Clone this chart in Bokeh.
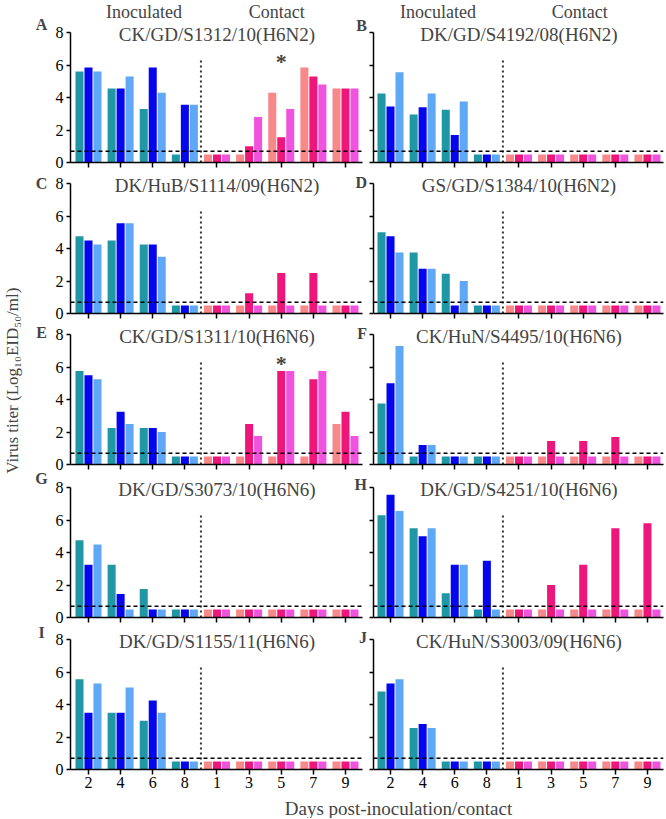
import math
from bokeh.plotting import figure
from bokeh.layouts import row, column
from bokeh.models import Label, FixedTicker, Range1d
from bokeh.embed import file_html
from bokeh.resources import INLINE

# ---------------- data ----------------
inoc_days = ["2", "4", "6", "8"]
contact_days = ["1", "3", "5", "7", "9"]
panel_letters = ["A", "B", "C", "D", "E", "F", "G", "H", "I", "J"]
strains = ["CK/GD/S1312/10(H6N2)", "DK/GD/S4192/08(H6N2)",
           "DK/HuB/S1114/09(H6N2)", "GS/GD/S1384/10(H6N2)",
           "CK/GD/S1311/10(H6N6)", "CK/HuN/S4495/10(H6N6)",
           "DK/GD/S3073/10(H6N6)", "DK/GD/S4251/10(H6N6)",
           "DK/GD/S1155/11(H6N6)", "CK/HuN/S3003/09(H6N6)"]

# three inoculated birds (rows) x days 2,4,6,8
A_inoc = [[5.6, 4.55, 3.3, 0.5], [5.85, 4.55, 5.85, 3.55], [5.6, 5.3, 4.3, 3.55]]
# three contact birds (rows) x days 1,3,5,7,9
A_cont = [[0.5, 0.5, 4.3, 5.85, 4.55], [0.5, 1.0, 1.55, 5.3, 4.55], [0.5, 2.8, 3.3, 4.8, 4.55]]
B_inoc = [[4.25, 2.95, 3.25, 0.5], [3.45, 3.4, 1.7, 0.5], [5.55, 4.25, 3.75, 0.5]]
B_cont = [[0.5] * 5, [0.5] * 5, [0.5] * 5]
C_inoc = [[4.75, 4.5, 4.25, 0.5], [4.5, 5.55, 4.25, 0.5], [4.25, 5.55, 3.5, 0.5]]
C_cont = [[0.5] * 5, [0.5, 1.25, 2.5, 2.5, 0.5], [0.5] * 5]
D_inoc = [[5.0, 3.75, 2.45, 0.5], [4.75, 2.75, 0.5, 0.5], [3.75, 2.75, 2.0, 0.5]]
D_cont = [[0.5] * 5, [0.5] * 5, [0.5] * 5]
E_inoc = [[5.75, 2.25, 2.25, 0.5], [5.5, 3.25, 2.25, 0.5], [5.25, 2.5, 2.0, 0.5]]
E_cont = [[0.5, 0.5, 0.5, 0.5, 2.5], [0.5, 2.5, 5.75, 5.25, 3.25], [0.5, 1.75, 5.75, 5.75, 1.75]]
F_inoc = [[3.75, 0.5, 0.5, 0.5], [5.0, 1.2, 0.5, 0.5], [7.3, 1.2, 0.5, 0.5]]
F_cont = [[0.5] * 5, [0.5, 1.45, 1.45, 1.7, 0.5], [0.5] * 5]
G_inoc = [[4.75, 3.25, 1.75, 0.5], [3.25, 1.45, 0.5, 0.5], [4.5, 0.5, 0.5, 0.5]]
G_cont = [[0.5] * 5, [0.5] * 5, [0.5] * 5]
H_inoc = [[6.3, 5.5, 1.5, 0.5], [7.55, 5.0, 3.25, 3.5], [6.55, 5.5, 3.25, 0.5]]
H_cont = [[0.5] * 5, [0.5, 2.0, 3.25, 5.5, 5.8], [0.5] * 5]
I_inoc = [[5.55, 3.5, 3.0, 0.5], [3.5, 3.5, 4.25, 0.5], [5.3, 5.05, 3.5, 0.5]]
I_cont = [[0.5] * 5, [0.5] * 5, [0.5] * 5]
J_inoc = [[4.8, 2.55, 0.5, 0.5], [5.3, 2.8, 0.5, 0.5], [5.55, 2.55, 0.5, 0.5]]
J_cont = [[0.5] * 5, [0.5] * 5, [0.5] * 5]

inoc_data = [A_inoc, B_inoc, C_inoc, D_inoc, E_inoc, F_inoc, G_inoc, H_inoc, I_inoc, J_inoc]
cont_data = [A_cont, B_cont, C_cont, D_cont, E_cont, F_cont, G_cont, H_cont, I_cont, J_cont]

# significance marks: (panel, contact day)
star_marks = {"A": "5", "E": "5"}

detection_limit = 0.7
divider_top = 6.3
y_ticks = [0, 2, 4, 6, 8]
y_max = 8

# ---------------- style / layout ----------------
FONT = "Liberation Serif"
inoc_colors = ["#1f97a5", "#0505ee", "#5ea8f6"]
cont_colors = ["#f8888a", "#ee167a", "#f054de"]
offsets = [-0.28, 0.0, 0.28]
bar_w = 0.25
letter_y = [8.49, 8.43, 8.0, 8.37, 8.12, 8.25, 8.55, 8.49, 8.43, 8.12]
LETTER_PX = 16
LETTER_HALF = 9.6                         # half text-box height of a letter, px

PX_PER_UNIT = 16.25                       # vertical scale of every panel
ROW_BOTTOMS = [162, 313, 464, 617, 769]   # page y of value 0 in each row
GAP_BELOW = [10, 10, 10, 10, 28]
STRIP_W = 52
LEFT_BL, LEFT_FRAME = 18, 298
RIGHT_BL, RIGHT_FRAME, RIGHT_BR = 5, 290, 1
LEFT_X = (-0.56, 8.53)        # axis extent, left column
LEFT_X_HI = 8.716             # frame runs a little past the axis (room for right letters)
RIGHT_X = (-0.53, 8.5)
XSTRIP_H = 21


def style_axes(p, left, bottom_row, x_bounds):
    all_days = inoc_days + contact_days
    for ax in p.xaxis:
        ax.ticker = FixedTicker(ticks=list(range(len(all_days))))
        ax.bounds = x_bounds
        if bottom_row:
            ax.major_label_overrides = {i: d for i, d in enumerate(all_days)}
        else:
            ax.major_label_overrides = {i: "" for i in range(len(all_days))}
        ax.major_label_text_font = FONT
        ax.major_label_text_font_size = "16px"
        ax.major_label_text_color = "black"
        ax.major_label_standoff = 2
        ax.axis_line_width = 1.5
        ax.axis_line_color = "black"
        ax.major_tick_line_width = 1.5
        ax.major_tick_line_color = "black"
        ax.major_tick_in = 0
        ax.major_tick_out = 5
        ax.minor_tick_line_color = None
    for ax in p.yaxis:
        ax.ticker = FixedTicker(ticks=y_ticks)
        ax.bounds = (0, y_max)
        if not left:
            ax.major_label_overrides = {t: "" for t in y_ticks}
            ax.major_label_standoff = 0
        else:
            ax.major_label_standoff = 3
        ax.major_label_text_font = FONT
        ax.major_label_text_font_size = "16px"
        ax.major_label_text_color = "black"
        ax.axis_line_width = 1.5
        ax.axis_line_color = "black"
        ax.major_tick_line_width = 1.5
        ax.major_tick_line_color = "black"
        ax.major_tick_in = 0
        ax.major_tick_out = 4
        ax.minor_tick_line_color = None


def row_top(r):
    return 0 if r == 0 else ROW_BOTTOMS[r - 1] + GAP_BELOW[r - 1]


def make_panel(idx):
    letter = panel_letters[idx]
    col = idx % 2
    rnum = idx // 2
    left = col == 0
    top_row = rnum == 0
    bottom_row = rnum == 4
    frame_h = ROW_BOTTOMS[rnum] - row_top(rnum)
    y_top = frame_h / PX_PER_UNIT
    b_bot = GAP_BELOW[rnum]
    if left:
        width = LEFT_BL + LEFT_FRAME
        xr = Range1d(LEFT_X[0], LEFT_X_HI)
        bl, br = LEFT_BL, 0
        xb = LEFT_X
    else:
        width = RIGHT_BL + RIGHT_FRAME + RIGHT_BR
        xr = Range1d(*RIGHT_X)
        bl, br = RIGHT_BL, RIGHT_BR
        xb = RIGHT_X
    p = figure(width=width, height=frame_h + b_bot,
               x_range=xr, y_range=Range1d(0, y_top),
               output_backend="svg", toolbar_location=None, title=None,
               min_border_top=0, min_border_bottom=b_bot,
               min_border_left=bl, min_border_right=br)
    p.outline_line_color = None
    p.xgrid.visible = False
    p.ygrid.visible = False
    p.background_fill_color = "white"
    style_axes(p, left, bottom_row, xb)

    n_in = len(inoc_days)
    for s in range(3):
        xs = [i + offsets[s] for i in range(n_in)]
        p.vbar(x=xs, top=inoc_data[idx][s], bottom=0, width=bar_w,
               fill_color=inoc_colors[s], line_color=None)
        xs = [n_in + i + offsets[s] for i in range(len(contact_days))]
        p.vbar(x=xs, top=cont_data[idx][s], bottom=0, width=bar_w,
               fill_color=cont_colors[s], line_color=None)

    # divider between inoculated and contact periods
    p.segment(x0=[n_in - 0.5], y0=[0], x1=[n_in - 0.5], y1=[divider_top],
              line_color="#333333", line_width=2, line_dash="2 3")
    # detection limit
    p.segment(x0=[xb[0]], y0=[detection_limit], x1=[xb[1]], y1=[detection_limit],
              line_color="black", line_width=1.5, line_dash="4 3")

    p.add_layout(Label(x=4.0, y=7.85, text=strains[idx], text_font=FONT,
                       text_font_size="19px", text_align="center", text_baseline="middle"))
    if top_row:
        ix = 1.73 if left else 1.48
        cx = 5.86 if left else 5.89
        for tx, t in ((ix, "Inoculated"), (cx, "Contact")):
            p.add_layout(Label(x=tx, y=9.26, text=t, text_font=FONT,
                               text_font_size="18px", text_align="center",
                               text_baseline="middle"))
    if letter in star_marks:
        d = contact_days.index(star_marks[letter]) + n_in
        p.add_layout(Label(x=d, y=6.2, text="*", text_font=FONT, text_font_size="22px",
                           text_font_style="bold", text_align="center", text_baseline="middle"))
    return p


panels = [make_panel(i) for i in range(10)]

# letters of the right-hand panels sit just left of their y axis (inside the left figure)
for r in range(5):
    ridx = 2 * r + 1
    frame_h = ROW_BOTTOMS[r] - row_top(r)
    ly = min(letter_y[ridx], (frame_h - LETTER_HALF - 0.5) / PX_PER_UNIT)
    panels[2 * r].add_layout(Label(x=8.67, y=ly, text=panel_letters[ridx],
                                   text_font=FONT, text_font_size=f"{LETTER_PX}px",
                                   text_font_style="bold", text_align="right",
                                   text_baseline="middle"))

panel_rows = [row(panels[2 * r], panels[2 * r + 1]) for r in range(5)]
panel_col = column(*panel_rows)
total_h = ROW_BOTTOMS[-1] + GAP_BELOW[-1]

ystrip = figure(width=STRIP_W, height=total_h, x_range=Range1d(0, STRIP_W),
                y_range=Range1d(0, total_h), x_axis_type=None, y_axis_type=None,
                output_backend="svg", toolbar_location=None, title=None, min_border=0)
ystrip.outline_line_color = None
ystrip.xgrid.visible = False
ystrip.ygrid.visible = False
ystrip.add_layout(Label(x=11.5, y=total_h - 378,
                        text="Virus  titer (Log\u2081\u2080EID\u2085\u2080/ml)",
                        angle=math.pi / 2, text_font=FONT, text_font_size="17px",
                        text_align="center", text_baseline="middle"))
# letters of the left-hand panels, in strip pixel coordinates
for r in range(5):
    idx = 2 * r
    page_y = ROW_BOTTOMS[r] - letter_y[idx] * PX_PER_UNIT
    ystrip.add_layout(Label(x=41, y=total_h - page_y, text=panel_letters[idx], text_font=FONT,
                            text_font_size=f"{LETTER_PX}px", text_font_style="bold",
                            text_align="center", text_baseline="middle"))

xstrip_w = STRIP_W + LEFT_BL + LEFT_FRAME + RIGHT_BL + RIGHT_FRAME + RIGHT_BR
xstrip = figure(width=xstrip_w, height=XSTRIP_H, x_range=Range1d(0, xstrip_w),
                y_range=Range1d(0, XSTRIP_H), x_axis_type=None, y_axis_type=None,
                output_backend="svg", toolbar_location=None, title=None, min_border=0)
xstrip.outline_line_color = None
xstrip.xgrid.visible = False
xstrip.ygrid.visible = False
xstrip.add_layout(Label(x=398, y=XSTRIP_H / 2, text="Days post-inoculation/contact",
                        text_font=FONT, text_font_size="19px", text_align="center",
                        text_baseline="middle"))

layout = column(row(ystrip, panel_col), xstrip)

open("out.html", "w").write(file_html(layout, INLINE))
